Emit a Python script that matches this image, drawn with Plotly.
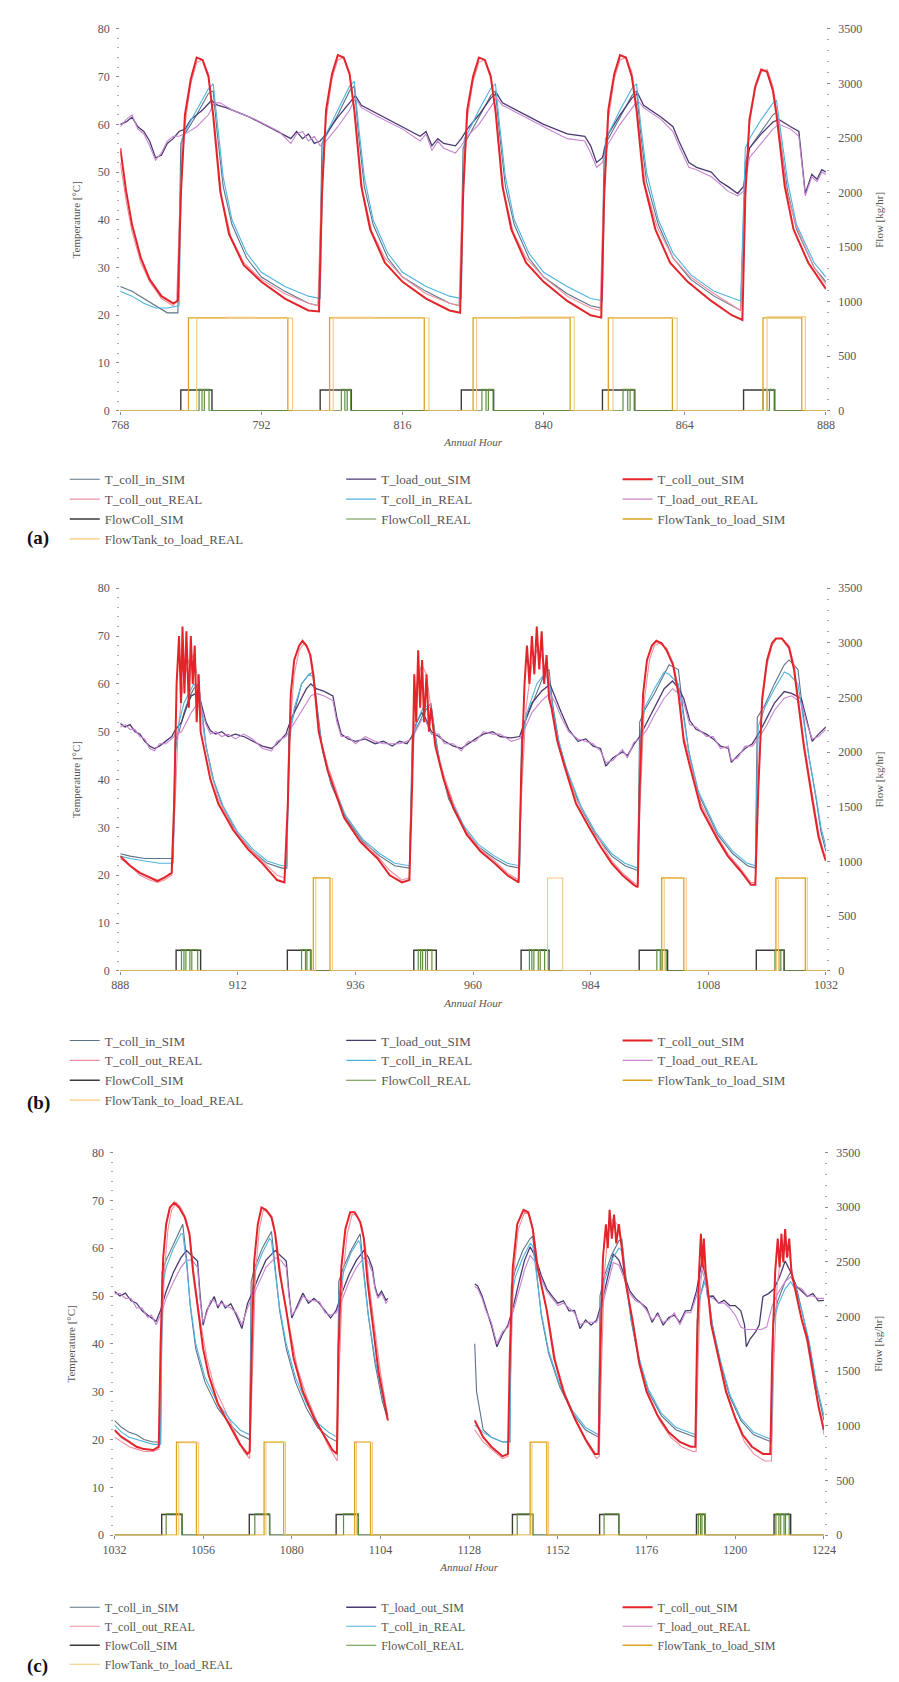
import plotly.graph_objects as go

W, H = 899, 1682
FONT = "Liberation Serif, serif"

# ---------------- series names / colours ----------------
NAMES = ["T_coll_in_SIM", "T_load_out_SIM", "T_coll_out_SIM", "T_coll_out_REAL",
         "T_coll_in_REAL", "T_load_out_REAL", "FlowColl_SIM", "FlowColl_REAL",
         "FlowTank_to_load_SIM", "FlowTank_to_load_REAL"]
COLORS = ["#5d7387", "#4a3a72", "#e3242b", "#ee8fa0", "#4fb3e0", "#c884d0",
          "#3a3a3a", "#5f8f3a", "#d9a521", "#f3c87a"]
WIDTHS = [1.1, 1.3, 2.0, 1.1, 1.1, 1.1, 1.4, 1.2, 1.3, 1.1]
AXIS_OF = ["T", "T", "T", "T", "T", "T", "F", "F", "F", "F"]
LEG_COL = [0, 1, 2, 0, 1, 2, 0, 1, 2, 0]

TEMP_TICKS = [0, 10, 20, 30, 40, 50, 60, 70, 80]
FLOW_TICKS = [0, 500, 1000, 1500, 2000, 2500, 3000, 3500]
TICK_A = [768, 792, 816, 840, 864, 888]
TICK_B = [888, 912, 936, 960, 984, 1008, 1032]
TICK_C = [1032, 1056, 1080, 1104, 1128, 1152, 1176, 1200, 1224]

# ---------------- panel (a) : hours 768-888 ----------------
A_T_COLL_IN_SIM = [(768,26),(770,25),(772,23.5),(774,22),(776,20.5),(777.8,20.5),(778.3,56),(779,58),(781,62),(783,66.5),(783.8,67),(784.5,58),(785.5,47),(787,39),(789.5,32),(792,28),(796,25),(800,22.5),(801.8,22),(802.3,56),(803,57.5),(805,62),(807,67),(807.8,68),(808.5,58),(809.5,47),(811,39),(813.5,32),(816,28),(820,25),(824,22.5),(825.8,22),(826.3,55),(827,57),(829,61.5),(831,66),(831.8,67),(832.5,58),(833.5,47),(835,39),(837.5,32),(840,28),(844,24.5),(848,22),(849.8,21.5),(850.3,55),(851,57),(853,61.5),(855,66),(855.8,67),(856.5,58),(857.5,48),(859.5,39),(862,32),(865,27.5),(869,24),(873.5,21),(874.3,52),(875,55),(877,58.5),(879,62),(879.6,62.5),(880.5,55),(881.5,46),(883,38),(886,30),(888,27)]
A_T_LOAD_OUT_SIM = [(768,60),(769,60.5),(770,61.5),(771,59.5),(772,58.5),(773,56.5),(774,53),(775,53.5),(776,56),(777,57),(778,58.5),(779,59),(780,61),(782,63),(783.5,65),(784.5,64),(786,63.5),(790,61.5),(794,59),(797,57),(798,58.5),(799,57),(800,58),(801,56),(802,56.5),(803,58),(805,61.5),(807,64.5),(808,66),(809,64),(812,62),(816,59.5),(819,57.5),(820,58.5),(821,55.5),(822,57),(823,56),(825,55.5),(826,57),(827,59),(829,62),(831,65.5),(832,66.5),(833,64.5),(836,62.5),(840,60),(844,58),(847,57.5),(848,55.5),(849,52),(850,53),(851,58),(853,62),(855,65.5),(856,66.5),(857,64),(860,61.5),(862,59.5),(863,56.5),(864.7,52),(866,51),(868.5,50),(870,48),(871.3,47),(873,45.5),(874,47),(875,55),(877,58),(879,60.5),(880,61),(882,59.5),(883.4,58.5),(884.5,45.5),(885.6,49.5),(886.5,48.5),(887.3,50.5),(888,50)]
A_T_COLL_OUT_SIM = [(768,55),(769,46),(770,39),(771.5,32),(773,27.5),(775,24),(777,22.5),(777.8,23),(778.3,45),(779,62),(780,69.5),(781,74),(782,73.5),(783,70),(783.8,62),(785,46),(786.5,37),(789,30.5),(792,27),(796,23.5),(800,21),(801.8,20.8),(802.3,45),(803,63),(804,70.5),(805,74.5),(806,74),(807,70.5),(807.8,63),(809,47),(810.5,38),(813,31),(816,27),(820,23.5),(824,21),(825.8,20.5),(826.3,45),(827,63),(828,70),(829,74),(830,73.5),(831,70),(831.8,63),(833,47),(834.5,38),(837,31),(840,27),(844,23),(848,20),(849.8,19.5),(850.3,45),(851,63),(852,70.5),(853,74.5),(854,74),(855,70),(855.8,63),(857,48),(859,38),(861.5,31),(864.5,27),(868.5,23),(872,20),(873.8,19),(874.3,45),(875,61),(876,68),(877,71.5),(878,71),(879,67),(879.6,62),(881,47),(882.5,38),(885,31),(888,25.5)]
A_T_COLL_OUT_REAL = [(768,52),(769,44),(770,37.5),(771.5,31),(773,27),(775,23.5),(777,22),(777.6,23),(778.1,42),(779,60),(780,68.5),(781,73),(782,73.5),(783,70.5),(784,60),(785.2,45),(786.8,36.5),(789,31),(792,27.5),(796,24.5),(800,22.5),(801.6,22),(802.1,42),(803,61),(804,69.5),(805,73.5),(806,74),(807,71),(808,61),(809.2,46),(810.8,37.5),(813,32),(816,28),(820,24.5),(824,22.5),(825.6,22),(826.1,42),(827,61),(828,69),(829,73),(830,73.5),(831,70.5),(832,61),(833.2,46),(834.8,37.5),(837,32),(840,28),(844,24),(848,21.5),(849.6,21),(850.1,42),(851,61),(852,69.5),(853,73.5),(854,74),(855,71),(856,62),(857.3,47),(859.3,38.5),(862,32),(865,28),(869,24.5),(873.5,21),(874.1,42),(875,60),(876,67.5),(877,71),(878,71.5),(879,68),(880,60),(881.3,46),(883,38.5),(886,30),(888,26.5)]
A_T_COLL_IN_REAL = [(768,25),(770,24),(772,22.5),(774,21.5),(776,21.5),(778,22),(778.5,57),(779,58.5),(781,63),(783,67.5),(783.8,68.5),(784.5,60),(785.5,49),(787,40),(789.5,33),(792,29),(796,26),(800,24),(802,23.5),(802.5,57),(803,58),(805,63),(807,68),(807.8,69),(808.5,60),(809.5,49),(811,40),(813.5,33),(816,29),(820,26),(824,24),(826,23.5),(826.5,57),(827,58),(829,63),(831,67.5),(831.8,68.5),(832.5,60),(833.5,49),(835,40),(837.5,33),(840,29),(844,26),(848,23.5),(850,23),(850.5,57),(851,58),(853,63),(855,67.5),(855.8,68.5),(856.5,60),(857.5,50),(859.5,40),(862,33),(865,28.5),(869,25),(873.5,23),(874.3,55),(875,57),(877,61),(879,64.5),(879.6,65),(880.5,57),(881.5,48),(883,39),(886,31),(888,28)]
A_T_LOAD_OUT_REAL = [(768,59.5),(769,61),(770,62),(771,59),(772,58),(773,55.5),(774,52.5),(775,54),(776,56.5),(777,57.5),(778,57.5),(779,58),(781,59.5),(783,62),(784,64.5),(785,64.5),(787,63),(791,61),(795,58.5),(797,56),(798,58),(799,58.5),(800,56.5),(801,57.5),(802,55.5),(803,56.5),(805,59.5),(807,63),(808,65.5),(809,63.5),(812,61.5),(816,59),(819,56.5),(820,58),(821,54.5),(822,56.5),(823,55),(825,54),(826,55.5),(827,57.5),(829,60),(831,63.5),(832,65.5),(833,64),(836,62),(840,59.5),(844,57),(847,56.5),(848,54),(849,51),(850,52),(851,56),(853,60),(855,63.5),(856,65),(857,63.5),(860,61),(862,58.5),(863,55.5),(864.7,51),(866,50.5),(868.5,49),(870,47.5),(871.3,46),(873,45),(874,46),(875,53),(877,56),(879,59),(880,60),(882,59),(883.4,57.5),(884.5,45),(885.6,49),(886.5,48),(887.3,50),(888,49.5)]
A_FLOWCOLL_SIM = [(768,0),(778.3,190),(783.6,0),(802,190),(807.3,0),(826,190),(831.5,0),(850,190),(855.5,0),(874,190),(879.3,0),(888,0)]
A_FLOWCOLL_REAL = [(768,0),(781.4,195),(781.9,0),(782.3,195),(783.1,0),(805.6,195),(806.2,0),(806.6,195),(807.2,0),(829.5,195),(830.2,0),(830.6,195),(831.4,0),(853.5,195),(854.3,0),(854.7,195),(855.4,0),(877.3,195),(878,0),(878.4,195),(879.2,0),(888,0)]
A_FLOWTANK_SIM = [(768,0),(779.6,850),(796.5,0),(803.6,850),(819.7,0),(828,850),(844.5,0),(851,850),(861.9,0),(877.3,850),(883.9,0),(888,0)]
A_FLOWTANK_REAL = [(768,0),(781,845),(786,855),(791,848),(797.3,0),(804.2,855),(811,850),(820.5,0),(828.6,850),(836,858),(845.2,0),(851.8,848),(862.7,0),(878,860),(884.5,0),(888,0)]

# ---------------- panel (b) : hours 888-1032 ----------------
B_T_COLL_IN_SIM = [(888,24.5),(890,24),(893,23.5),(896,23.5),(898.8,23.5),(899.2,48),(900,50),(901,54),(902,57),(903,59),(904,60),(904.6,55),(905.5,47),(907,40),(909,34),(912,28.5),(915,25),(918,22.5),(921,21.5),(922,21.5),(922.4,50),(923.5,54),(925,60),(926.5,62),(927.4,62.5),(928.2,55),(929.3,46),(931,39),(934,32),(937.5,27),(941,24),(944,22),(947,21.5),(947.6,49),(948.5,51),(950,54),(951.4,56),(952.2,50),(953.3,43),(955,36),(958,30),(961,26),(964.4,23.5),(967,22),(969.5,21.5),(969.9,50),(971,53),(973,58),(974.5,62),(975.5,63),(976.2,56),(977.5,48),(979,42),(982,34),(985,28.5),(988.3,24),(991,22),(993.6,21),(994,52),(995,54.5),(997,58),(999,62),(1000,64),(1001.9,63),(1002.8,55),(1004,46),(1006,37),(1009.9,28.5),(1013,24.5),(1016,22),(1017.6,21.5),(1018,53),(1019.5,55.5),(1021.5,60),(1023.5,64),(1024.5,65),(1026.3,63),(1027.2,55),(1028.5,45),(1030,36),(1031,29),(1032,25)]
B_T_LOAD_OUT_SIM = [(888,51.7),(889,51),(890,51.5),(891,50),(892,49.5),(893,48),(894,47),(895,46.5),(896,47),(897.3,48),(898.5,49),(899.3,50.5),(900.5,52),(901.5,55),(902.5,57.5),(903.5,58),(904.5,56),(905.5,52),(906.4,50.2),(907.5,49.5),(908.7,50),(910,49),(911.5,49.5),(913.2,49),(915,48),(917,47),(918.9,46.5),(920,47.5),(921.8,49.5),(923,53),(924.5,56),(926,59),(926.9,60),(928,59),(929.5,58.5),(931.4,57.5),(932.2,53),(933.1,49.5),(934.5,48.5),(936,48),(938,48.5),(940,47.5),(941.7,48),(943.5,47),(945,48),(946.5,47.5),(947.5,49),(948.5,52),(949.5,54),(950.2,53),(951.5,50),(953,49),(954.2,48),(956,47),(957.6,46.5),(959,47.5),(960.5,48.5),(962.1,49.5),(964,50),(965.5,49),(967.8,48.7),(969.5,49),(970.5,52),(972,56),(974,58.5),(975.7,59.9),(976.8,57),(978,54),(979.5,50.5),(981.4,48),(983,48.5),(984.5,47),(986,46.5),(987.1,42.8),(988.5,44.5),(990.5,45.8),(991.5,45),(992.8,47.3),(994,49),(995.5,52),(997,55),(999,59),(1000.7,60.6),(1002,59),(1003,56.9),(1004.2,52.4),(1005.5,50.5),(1007.6,49.5),(1009,48.5),(1010.5,47),(1012.1,46.5),(1012.7,43.6),(1014,45),(1015.5,46.5),(1017,47.5),(1018.5,50),(1020,53),(1021.5,56),(1023.5,58.4),(1025,58),(1027,56.9),(1028.2,52),(1029.2,48),(1030.5,49.5),(1032,51)]
B_T_COLL_OUT_SIM = [(888,24),(890,22),(892,20.5),(894,19.5),(895.6,18.8),(897,19.5),(898.5,20.5),(899,35),(899.5,60),(900,70),(900.4,56),(900.7,72),(901.1,58),(901.5,71),(902,55),(902.4,70),(902.8,60),(903.2,68),(903.6,52),(904,62),(904.4,50),(905.2,46),(906.4,40),(908,35),(911,29.5),(914,25.5),(917,22.5),(920,19),(921.5,18.5),(922.2,35),(922.8,58),(923.5,65),(924.5,68),(925.2,69),(926,68),(926.8,66),(927.4,62),(928.5,50),(930.3,42),(933.7,32),(937,27),(940.5,23.5),(943,20),(945.5,18.5),(947,19),(947.6,40),(948,62),(948.4,52),(948.8,67),(949.2,55),(949.6,65),(950,52),(950.5,62),(951,50),(951.4,55),(952.3,47),(954,40),(956,34),(958.7,28.5),(961.5,25),(964.4,22.5),(967,20),(969.3,18.5),(969.8,40),(970.5,60),(971,68),(971.5,60),(972,70),(972.5,62),(973,72),(973.5,63),(974,71),(974.5,60),(975,66),(975.5,57),(976,55),(977.2,48),(978.6,43),(981,35),(983.7,30),(986,26),(988.3,22.5),(990.5,20),(992.8,18),(993.6,17.5),(994,38),(994.7,58),(995.5,65),(996.5,68),(997.4,69),(998.5,68.5),(999.5,67),(1000.8,64),(1001.9,58),(1003,48),(1004.2,43),(1006.5,34),(1009.9,27.5),(1012,24),(1014.5,21),(1016.7,18),(1017.6,18),(1018.2,38),(1019,57),(1020,65),(1021,68.5),(1021.8,69.5),(1023,69.5),(1024.5,67.5),(1025.5,63),(1026.3,57),(1027.5,47),(1029.2,36),(1030.5,28),(1031.5,24.5),(1032,23)]
B_T_COLL_OUT_REAL = [(888,23.5),(890,22),(892,20),(894,19),(895.6,18.5),(897,19),(898.5,20),(899,30),(899.8,50),(900.8,60),(902,65),(903,66),(904,60),(905,50),(906.4,42),(908,36),(911,30),(914,26),(917,23),(920,20),(921.5,19.5),(922,28),(922.6,50),(923.5,62),(924.5,67),(925.5,68.5),(926.5,67),(927.5,60),(928.5,50),(930.3,43),(933.7,33),(937,28),(940.5,24),(943,21),(945.5,19),(947,19.5),(947.5,40),(948.5,60),(949.5,64),(950.5,62),(951.5,54),(952.5,47),(954,41),(956,35),(958.7,29),(961.5,25.5),(964.4,23),(967,20.5),(969.3,19),(969.8,35),(970.8,55),(972,64),(973,67),(974,66),(975,62),(976,55),(977.2,49),(978.6,44),(981,36),(983.7,31),(986,27),(988.3,23),(990.5,20.5),(992.8,18.5),(993.6,18),(994,33),(995,57),(996,65),(997,68),(998,68.5),(999.5,67.5),(1000.8,64.5),(1001.9,59),(1003,49),(1004.2,44),(1006.5,35),(1009.9,28),(1012,24.5),(1014.5,21.5),(1016.7,18.5),(1017.6,18.5),(1018,33),(1019,56),(1020,64),(1021,68),(1022,69.5),(1023,69.5),(1024.5,68),(1025.5,64),(1026.3,58),(1027.5,48),(1029.2,37),(1030.5,29),(1031.5,25),(1032,24)]
B_T_COLL_IN_REAL = [(888,24),(890,23.5),(893,23),(896,22.5),(898.8,22.5),(899.3,46),(900,52),(901,56),(902,58),(903,60),(904,59),(904.6,54),(905.5,47),(907,40),(909,34.5),(912,29),(915,25.5),(918,23),(921,22),(922,22),(922.5,48),(923.5,55),(925,60),(926.5,62),(927.4,61.5),(928.2,54),(929.3,46),(931,39.5),(934,32.5),(937.5,27.5),(941,24.5),(944,22.5),(947,22),(947.7,48),(948.5,52),(950,55.5),(951.4,55),(952.2,49),(953.3,43),(955,36.5),(958,30.5),(961,26.5),(964.4,24),(967,22.5),(969.5,22),(970,48),(971,54),(973,60),(974.5,62),(975.5,61),(976.2,55),(977.5,48),(979,42.5),(982,34.5),(985,29),(988.3,24.5),(991,22.5),(993.6,21.5),(994.2,50),(995,55),(997,59),(999,62.5),(1000,62),(1001.9,60),(1002.8,54),(1004,46),(1006,37.5),(1009.9,29),(1013,25),(1016,22.5),(1017.6,22),(1018.2,51),(1019.5,55),(1021.5,59),(1023.5,62.5),(1024.5,62),(1026.3,60),(1027.2,54),(1028.5,45),(1030,36.5),(1031,30),(1032,26)]
B_T_LOAD_OUT_REAL = [(888,51),(889,51.5),(890,50.5),(891,50.5),(892,49),(893,48.5),(894,46.5),(895,46),(896,47.5),(897.3,47.5),(898.5,48.5),(899.3,49.5),(900.5,50),(901.5,52),(902.5,54),(903.5,55.5),(904.5,55),(905.5,51.5),(906.4,49.5),(907.5,50),(908.7,49),(910,49.5),(911.5,48.5),(913.2,49.5),(915,48.5),(917,46.5),(918.9,46),(920,48),(921.8,49),(923,51),(924.5,53.5),(926,56),(926.9,57.5),(928,58),(929.5,57.5),(931.4,56.5),(932.2,52),(933.1,49),(934.5,49),(936,47.5),(938,49),(940,48),(941.7,47.5),(943.5,47.5),(945,47.5),(946.5,48),(947.5,48.5),(948.5,50.5),(949.5,52.5),(950.2,52.5),(951.5,49.5),(953,49.5),(954.2,47.5),(956,47.5),(957.6,46),(959,48),(960.5,48),(962.1,50),(964,49.5),(965.5,49.5),(967.8,48),(969.5,48.5),(970.5,50.5),(972,54),(974,56.5),(975.7,58),(976.8,56),(978,53),(979.5,50),(981.4,48.5),(983,48),(984.5,47.5),(986,46),(987.1,43.5),(988.5,44),(990.5,46.3),(991.5,44.5),(992.8,47.8),(994,48.5),(995.5,50.5),(997,53.5),(999,57),(1000.7,59),(1002,58),(1003,56),(1004.2,51.5),(1005.5,51),(1007.6,49),(1009,49),(1010.5,46.5),(1012.1,47),(1012.7,44),(1014,44.5),(1015.5,47),(1017,47),(1018.5,49),(1020,51.5),(1021.5,54.5),(1023.5,57),(1025,57.5),(1027,56),(1028.2,51.5),(1029.2,48.5),(1030.5,49),(1032,50.5)]
B_FLOWCOLL_SIM = [(888,0),(899.4,190),(904.4,0),(922.1,190),(926.9,0),(947.9,190),(952.5,0),(969.8,190),(975.5,0),(993.9,190),(999.7,0),(1017.8,190),(1023.5,0),(1032,0)]
B_FLOWCOLL_REAL = [(888,0),(900.5,195),(901,0),(901.4,195),(902.2,0),(902.6,195),(903.8,0),(925,195),(925.8,0),(926.1,195),(926.8,0),(948.8,195),(949.3,0),(949.7,195),(950.3,0),(950.7,195),(951.6,0),(971.5,195),(972,0),(972.4,195),(973.3,0),(973.7,195),(974.6,0),(997.5,195),(998.2,0),(998.6,195),(999.4,0),(1021.6,195),(1022.4,0),(1022.8,195),(1023.4,0),(1032,0)]
B_FLOWTANK_SIM = [(888,0),(927.4,850),(930.8,0),(998.5,850),(1003,0),(1021.8,850),(1027.8,0),(1032,0)]
B_FLOWTANK_REAL = [(888,0),(927.9,845),(931.3,0),(975.2,850),(978.3,0),(999,848),(1003.5,0),(1022.3,852),(1028.2,0),(1032,0)]

# ---------------- panel (c) : hours 1032-1224 (data gap ~1106-1129) ----------------
C_T_COLL_IN_SIM = [(1032,24),(1034,22.5),(1036,21.5),(1038,21),(1040,20),(1042.5,19.5),(1044.5,19.5),(1044.9,55),(1046,57.5),(1048,61),(1050,64.5),(1050.5,65),(1051.5,58),(1052.5,48),(1054,39),(1056.5,32),(1060,26.5),(1063.5,23),(1066,21),(1068.6,20),(1069,53),(1070,56),(1072,60),(1074,63),(1074.5,63.5),(1075.5,56),(1076.7,47),(1078.5,39),(1081,32),(1084,26.5),(1087,22.5),(1090,20.5),(1092.3,19.5),(1092.7,53),(1094,56),(1096,59.5),(1098,62.5),(1098.5,63),(1099.5,55),(1100.7,46),(1102.5,36),(1104.5,28),(1106,24),(1117,None),(1129.5,40),(1130,30),(1131.8,22),(1134,20.5),(1137,19.5),(1139,19.5),(1139.4,52),(1140.5,55.5),(1142.5,59.5),(1144.5,62),(1145.2,62.5),(1146.3,55),(1147.5,46),(1149.5,38),(1152.5,31),(1156,25.5),(1159.5,22),(1163,20.5),(1163.4,50),(1164.5,54),(1166.5,58.5),(1168.5,61.5),(1169.3,62),(1170.4,54),(1171.8,45),(1173.8,37),(1176.5,30),(1180,25),(1184,22),(1189.3,20.5),(1189.7,45),(1190.5,50),(1191.8,54),(1192.6,51),(1193.8,44),(1196,36),(1198.5,29),(1201.5,24),(1205,21),(1209.8,19.5),(1210.3,45),(1211.5,49),(1213.5,53),(1215,55),(1216.5,52),(1218,47),(1220,40),(1222,31),(1224,24)]
C_T_LOAD_OUT_SIM = [(1032,51),(1033.5,50),(1035,50.6),(1036.5,49),(1038,48.5),(1039.5,46.9),(1041,46),(1042,45.5),(1043.3,44.7),(1044.5,47),(1046,51),(1048,55),(1050,58),(1051.5,59.5),(1053,58.5),(1054.5,57.3),(1055.2,50),(1056,43.9),(1057,47),(1058,48.5),(1059,49.9),(1060,47.5),(1061,49),(1062,47.5),(1063.5,48.4),(1065,46),(1066.5,43.2),(1068,48.4),(1069.5,51),(1071,54),(1073,57.5),(1075.5,59.5),(1077,58.5),(1078.5,57.3),(1079.2,51),(1080,45.4),(1081.5,48),(1083,50.6),(1084.5,48.5),(1086,49.5),(1087.5,48.4),(1089,47),(1090.5,45.4),(1092,47),(1093.5,50.5),(1095.5,54.5),(1097.5,57.5),(1099.5,59.5),(1100.8,58),(1101.8,55.8),(1102.5,52),(1103.3,49.9),(1104.3,51),(1105.5,49.1),(1106,49.5),(1117,None),(1129.5,52.5),(1130.3,52.1),(1131.5,50),(1132.5,47.5),(1134,43.9),(1135.5,39.4),(1137,42),(1138.5,43.9),(1140,48),(1141.5,53),(1143,57.5),(1144.5,60.3),(1146,58),(1147.5,54.3),(1149,51.5),(1150.5,49.9),(1152,48.5),(1153.5,49),(1155,46.9),(1156.5,47),(1158,43.2),(1159.5,45),(1161,43.9),(1162.5,45),(1164,49),(1165.5,54),(1167,58.8),(1168.5,57.5),(1170,54.3),(1171.5,51),(1173,49.5),(1174.5,48.4),(1176,47.5),(1177.5,44.5),(1179,46.5),(1180.5,43.9),(1182,45.5),(1183.5,46),(1185,44.5),(1186.5,46.9),(1188,47),(1189.5,51),(1191,57.3),(1192,54),(1192.5,49.9),(1194,50),(1195.5,48.5),(1197,49.1),(1198.5,48),(1200,48),(1201.5,46.9),(1202.5,44),(1203,39.4),(1204,41),(1205.5,42.5),(1206.5,44),(1207.5,49.9),(1209,50.5),(1210.5,51.5),(1212,54),(1213.5,57.3),(1215,55),(1216.5,52.1),(1218,51),(1219.5,49.9),(1221,50.5),(1222.5,49),(1224,49.1)]
C_T_COLL_OUT_SIM = [(1032,22),(1034,20.5),(1036,19.5),(1038,18.5),(1040,18),(1042.5,17.8),(1044,18.5),(1044.5,40),(1045.2,58),(1046,65),(1047,68.5),(1048.2,69.5),(1049.5,68.5),(1051,66.5),(1052.3,63),(1053.3,55),(1054.5,48),(1056,39),(1057.5,33.5),(1060,27.5),(1063.5,22.5),(1066,19),(1068,17),(1068.6,17.5),(1069.2,40),(1069.8,57),(1070.8,65),(1071.8,68.5),(1073,68),(1074.5,66.5),(1075.5,63),(1076.7,55),(1078.5,47),(1080.5,37),(1083,30),(1086,24.5),(1089,20.5),(1091,17.8),(1092.2,17),(1092.6,38),(1093.4,56),(1094.5,64),(1095.8,67.5),(1097,67.5),(1098.5,65.5),(1099.5,62),(1100.5,53),(1101.8,45),(1103.5,34),(1105.5,26),(1106,24),(1117,None),(1129.5,24),(1131.8,20.5),(1134,18.5),(1137,16.5),(1138.5,17),(1139,38),(1139.8,56),(1141,65),(1142.7,68),(1144,67.5),(1145.2,64),(1146.5,56),(1149,47),(1151,37),(1153.5,30),(1156.5,24.5),(1159.5,20),(1162,17),(1163,17),(1163.5,38),(1164.2,58),(1165,65),(1165.5,60),(1166,68),(1166.6,62),(1167.2,67),(1167.8,61),(1168.5,65),(1169.3,60),(1170.3,53),(1172.3,44.5),(1174,36),(1176,30),(1179,25),(1182,21.5),(1185,19.5),(1188,18.5),(1189.2,18.5),(1189.6,38),(1190.2,55),(1190.7,63),(1191.1,56),(1191.5,62),(1192,55),(1192.5,52),(1193.5,44),(1195.5,37),(1197.5,30),(1200,24.5),(1202,21),(1204.5,18.5),(1207.5,17),(1209.5,17),(1210,38),(1210.8,55),(1211.5,62),(1212,56),(1212.5,63),(1213,57),(1213.5,64),(1214,58),(1214.6,62),(1215.2,55),(1216.5,50),(1218,45),(1219.5,41),(1221,34),(1222.5,27),(1224,22)]
C_T_COLL_OUT_REAL = [(1032,20.5),(1034,19.5),(1036,18.5),(1038,18),(1040,17.5),(1042.5,17.5),(1044,18),(1044.6,35),(1045.5,55),(1046.5,64),(1047.5,68),(1048.8,69.5),(1050,68.5),(1051.5,66),(1052.5,62),(1053.6,54),(1055,46),(1057,37),(1059,31),(1062,26),(1065,21),(1067,17.5),(1068.6,16),(1069.4,35),(1070.2,55),(1071.2,64),(1072.3,68),(1073.5,67.5),(1075,65.5),(1076,61),(1077.2,53),(1079,45),(1081.5,35),(1084,29),(1087,23.5),(1090,18.5),(1092.3,15.5),(1092.8,34),(1093.8,54),(1095,63),(1096.3,67),(1097.5,67),(1099,64.5),(1100,60),(1101,52),(1102.5,43),(1104,34),(1105.5,27),(1106,25),(1117,None),(1129.5,22),(1131.8,19.5),(1134,18),(1137,16),(1138.5,16.5),(1139.2,34),(1140,54),(1141.3,64),(1143,67.5),(1144.3,67),(1145.5,63),(1146.8,55),(1149.5,45),(1151.5,36),(1154,29.5),(1157,23.5),(1160,19),(1162.5,16),(1163.2,16.5),(1163.8,35),(1164.6,55),(1165.6,63),(1166.8,66),(1168,65),(1169.3,61),(1170.5,52),(1172.5,43.5),(1174.5,35),(1176.5,29),(1179.5,24),(1182.5,20.5),(1185.5,18.5),(1188.5,17.5),(1189.4,17.5),(1189.9,35),(1190.6,52),(1191.3,58),(1192,54),(1192.8,50),(1194,43),(1196,35.5),(1198,29),(1200.5,23.5),(1202.5,19.5),(1205,17),(1208,15.5),(1209.8,15.5),(1210.4,35),(1211.3,52),(1212.3,58),(1213.5,60),(1214.8,58),(1216,52),(1217.5,47),(1219.5,40),(1221.5,31),(1223,25),(1224,21)]
C_T_COLL_IN_REAL = [(1032,23),(1034,21.5),(1036,20.5),(1038,20),(1040,19.5),(1042.5,19),(1044.5,19),(1045,52),(1046,56),(1048,60),(1050,63),(1050.5,63),(1051.5,57),(1052.5,48.5),(1054,40),(1056.5,33),(1060,27.5),(1063.5,24),(1066,22),(1068.6,21),(1069.1,50),(1070,55),(1072,59),(1074,62),(1074.5,61.5),(1075.5,55),(1076.7,47.5),(1078.5,40),(1081,33),(1084,27.5),(1087,23.5),(1090,21.5),(1092.3,20.5),(1092.8,50),(1094,55),(1096,59),(1098,61.5),(1098.5,61),(1099.5,54),(1100.7,46),(1102.5,37),(1104.5,29),(1106,25),(1117,None),(1129.5,23),(1131.8,21.5),(1134,20.5),(1137,19.5),(1139,19.5),(1139.5,50),(1140.5,54),(1142.5,58),(1144.5,61),(1145.2,60.5),(1146.3,54),(1147.5,46.5),(1149.5,38.5),(1152.5,31.5),(1156,26),(1159.5,22.5),(1163,21),(1163.5,48),(1164.5,53),(1166.5,57.5),(1168.5,60),(1169.3,59.5),(1170.4,53),(1171.8,45),(1173.8,37.5),(1176.5,30.5),(1180,25.5),(1184,22.5),(1189.3,21),(1189.8,44),(1190.5,50),(1191.8,53),(1192.6,50),(1193.8,44),(1196,36.5),(1198.5,29.5),(1201.5,24.5),(1205,21.5),(1209.8,20),(1210.3,44),(1211.5,48),(1213.5,51.5),(1215,53),(1216.5,51),(1218,47),(1220,40.5),(1222,31.5),(1224,25)]
C_T_LOAD_OUT_REAL = [(1032,50.5),(1033.5,50.5),(1035,49.5),(1036.5,49.5),(1038,47.5),(1039.5,47.5),(1041,45.5),(1042,46),(1043.3,44),(1044.5,46),(1046,49.5),(1048,53),(1050,56),(1051.5,57.5),(1053,57.5),(1054.5,56),(1055.2,49),(1056,44.5),(1057,46.5),(1058,49),(1059,49),(1060,48),(1061,48.5),(1062,48),(1063.5,47.5),(1065,46.5),(1066.5,44),(1068,47.5),(1069.5,50),(1071,52.5),(1073,56),(1075.5,58),(1077,57.5),(1078.5,56),(1079.2,50),(1080,46),(1081.5,47.5),(1083,50),(1084.5,49),(1086,49),(1087.5,48.8),(1089,46.5),(1090.5,46),(1092,46.5),(1093.5,49),(1095.5,53),(1097.5,56),(1099.5,58),(1100.8,57),(1101.8,55),(1102.5,51.5),(1103.3,49.5),(1104.3,50.5),(1105.5,48.5),(1106,49),(1117,None),(1129.5,52),(1130.3,51.5),(1131.5,49.5),(1132.5,47),(1134,44.5),(1135.5,40),(1137,42.5),(1138.5,43.5),(1140,47),(1141.5,51),(1143,55.5),(1144.5,58.5),(1146,57),(1147.5,53.5),(1149,51),(1150.5,49.5),(1152,48),(1153.5,48.5),(1155,47.5),(1156.5,46.5),(1158,44),(1159.5,44.5),(1161,44.5),(1162.5,44.5),(1164,48),(1165.5,52.5),(1167,57),(1168.5,56.5),(1170,53.5),(1171.5,50.5),(1173,49),(1174.5,48.5),(1176,47),(1177.5,45),(1179,46),(1180.5,44.5),(1182,45),(1183.5,46.5),(1185,44),(1186.5,46.5),(1188,46.5),(1189.5,50),(1191,55.5),(1192,53),(1192.5,50),(1194,49.5),(1195.5,48.5),(1197,48.5),(1198.5,47.5),(1200,46),(1201.5,43.5),(1203,43),(1205,43),(1207,43),(1208.5,43.5),(1210,48),(1211.5,50.5),(1213.5,53),(1215,54),(1216.5,52),(1218,51.5),(1219.5,50),(1221,50),(1222.5,49.5),(1224,49.5)]
C_FLOWCOLL_SIM = [(1032,0),(1044.8,190),(1050.3,0),(1068.5,190),(1074,0),(1092,190),(1098,0),(1139.7,190),(1145.2,0),(1163.3,190),(1168.5,0),(1189.5,190),(1191.8,0),(1210.5,190),(1215,0),(1224,0)]
C_FLOWCOLL_REAL = [(1032,0),(1046,195),(1050.3,0),(1070,195),(1074,0),(1094,195),(1098,0),(1141,195),(1145.2,0),(1164.5,195),(1168.5,0),(1190,195),(1190.6,0),(1191,195),(1191.8,0),(1211,195),(1211.8,0),(1212.3,195),(1213.2,0),(1213.6,195),(1214.6,0),(1224,0)]
C_FLOWTANK_SIM = [(1032,0),(1048.8,850),(1054.2,0),(1072.5,850),(1077.8,0),(1097,850),(1101.3,0),(1144.5,850),(1149,0),(1224,0)]
C_FLOWTANK_REAL = [(1032,0),(1049.4,845),(1054.8,0),(1073,850),(1078.3,0),(1097.5,848),(1101.8,0),(1145,852),(1149.5,0),(1224,0)]

PANEL_DATA = [
    [A_T_COLL_IN_SIM, A_T_LOAD_OUT_SIM, A_T_COLL_OUT_SIM, A_T_COLL_OUT_REAL, A_T_COLL_IN_REAL,
     A_T_LOAD_OUT_REAL, A_FLOWCOLL_SIM, A_FLOWCOLL_REAL, A_FLOWTANK_SIM, A_FLOWTANK_REAL],
    [B_T_COLL_IN_SIM, B_T_LOAD_OUT_SIM, B_T_COLL_OUT_SIM, B_T_COLL_OUT_REAL, B_T_COLL_IN_REAL,
     B_T_LOAD_OUT_REAL, B_FLOWCOLL_SIM, B_FLOWCOLL_REAL, B_FLOWTANK_SIM, B_FLOWTANK_REAL],
    [C_T_COLL_IN_SIM, C_T_LOAD_OUT_SIM, C_T_COLL_OUT_SIM, C_T_COLL_OUT_REAL, C_T_COLL_IN_REAL,
     C_T_LOAD_OUT_REAL, C_FLOWCOLL_SIM, C_FLOWCOLL_REAL, C_FLOWTANK_SIM, C_FLOWTANK_REAL],
]

# ---------------- layout geometry (pixels) ----------------
PANELS = [
    dict(xr=[768, 888], ticks=TICK_A, x0=103, x1=828, ytop=14, ybot=399, leg_top=453, leg_fs=13, lab_y=527, lab="(a)"),
    dict(xr=[888, 1032], ticks=TICK_B, x0=103, x1=828, ytop=578, ybot=964, leg_top=1019, leg_fs=13, lab_y=1097, lab="(b)"),
    dict(xr=[1032, 1224], ticks=TICK_C, x0=97, x1=826, ytop=1147, ybot=1533, leg_top=1591, leg_fs=12, lab_y=1665, lab="(c)"),
]
LEG_X = [46, 330, 614]


def px_x(p):
    return p / W


def px_y(p):
    return 1 - p / H


fig = go.Figure()
layout = dict(
    width=W, height=H, margin=dict(l=0, r=0, t=0, b=0),
    paper_bgcolor="white", plot_bgcolor="white",
    font=dict(family=FONT, color="#555"),
    annotations=[],
)

for pi, (P, data) in enumerate(zip(PANELS, PANEL_DATA)):
    xa = "xaxis" if pi == 0 else f"xaxis{pi + 1}"
    xref = "x" if pi == 0 else f"x{pi + 1}"
    yT_num = 2 * pi + 1
    yF_num = 2 * pi + 2
    yT = "y" if yT_num == 1 else f"y{yT_num}"
    yF = f"y{yF_num}"
    yTa = "yaxis" if yT_num == 1 else f"yaxis{yT_num}"
    yFa = f"yaxis{yF_num}"

    dom_x = [px_x(P["x0"]), px_x(P["x1"])]
    dom_y = [px_y(P["ybot"]), px_y(P["ytop"])]

    layout[xa] = dict(
        domain=dom_x, range=P["xr"], anchor=yT, tickvals=P["ticks"],
        showline=True, linecolor="#8a8a8a", linewidth=1, mirror=True,
        ticks="outside", ticklen=3, tickcolor="#8a8a8a",
        tickfont=dict(family=FONT, size=12, color="#555"), showgrid=False, zeroline=False,
        title=dict(text="<i>Annual Hour</i>", font=dict(family=FONT, size=11, color="#555"), standoff=7),
    )
    layout[yTa] = dict(
        domain=dom_y, range=[0, 80], anchor=xref, tickvals=TEMP_TICKS,
        showline=True, linecolor="#8a8a8a", linewidth=1,
        ticks="outside", ticklen=3, tickcolor="#8a8a8a",
        minor=dict(dtick=2, ticks="outside", ticklen=2, tickcolor="#aaa"),
        tickfont=dict(family=FONT, size=12, color="#555"), showgrid=False, zeroline=False,
        ticklabelstandoff=4,
        title=dict(text="Temperature [°C]", font=dict(family=FONT, size=11, color="#555"), standoff=14),
    )
    layout[yFa] = dict(
        range=[0, 3500], anchor=xref, overlaying=yT, side="right", tickvals=FLOW_TICKS,
        showline=True, linecolor="#8a8a8a", linewidth=1,
        ticks="outside", ticklen=3, tickcolor="#8a8a8a",
        minor=dict(dtick=100, ticks="outside", ticklen=2, tickcolor="#aaa"),
        tickfont=dict(family=FONT, size=12, color="#555"), showgrid=False, zeroline=False,
        ticklabelstandoff=6,
        title=dict(text="Flow [kg/hr]", font=dict(family=FONT, size=11, color="#555"), standoff=14),
    )

    for ci in range(3):
        lname = "legend" if (pi == 0 and ci == 0) else f"legend{pi * 3 + ci + 1}"
        layout[lname] = dict(
            x=px_x(LEG_X[ci]), y=px_y(P["leg_top"]), xanchor="left", yanchor="top",
            orientation="v", bgcolor="rgba(0,0,0,0)", borderwidth=0,
            font=dict(family=FONT, size=P["leg_fs"], color="#555"),
            tracegroupgap=0, itemwidth=30,
        )

    for si, pairs in enumerate(data):
        xs = [p[0] for p in pairs]
        ys = [p[1] for p in pairs]
        ci = LEG_COL[si]
        lname = "legend" if (pi == 0 and ci == 0) else f"legend{pi * 3 + ci + 1}"
        is_flow = AXIS_OF[si] == "F"
        fig.add_trace(go.Scatter(
            x=xs, y=ys, mode="lines", name=NAMES[si],
            xaxis=xref, yaxis=yF if is_flow else yT,
            line=dict(color=COLORS[si], width=WIDTHS[si], shape="hv" if is_flow else "linear"),
            connectgaps=False, legend=lname, showlegend=True,
            zorder=3 if si == 2 else 0,
        ))

    layout["annotations"].append(dict(
        text="<b>" + P["lab"] + "</b>", x=px_x(5), y=px_y(P["lab_y"]), xref="paper", yref="paper",
        xanchor="left", yanchor="middle", showarrow=False,
        font=dict(family=FONT, size=19, color="#111"),
    ))

fig.update_layout(**layout)
fig.write_html("out.html")
